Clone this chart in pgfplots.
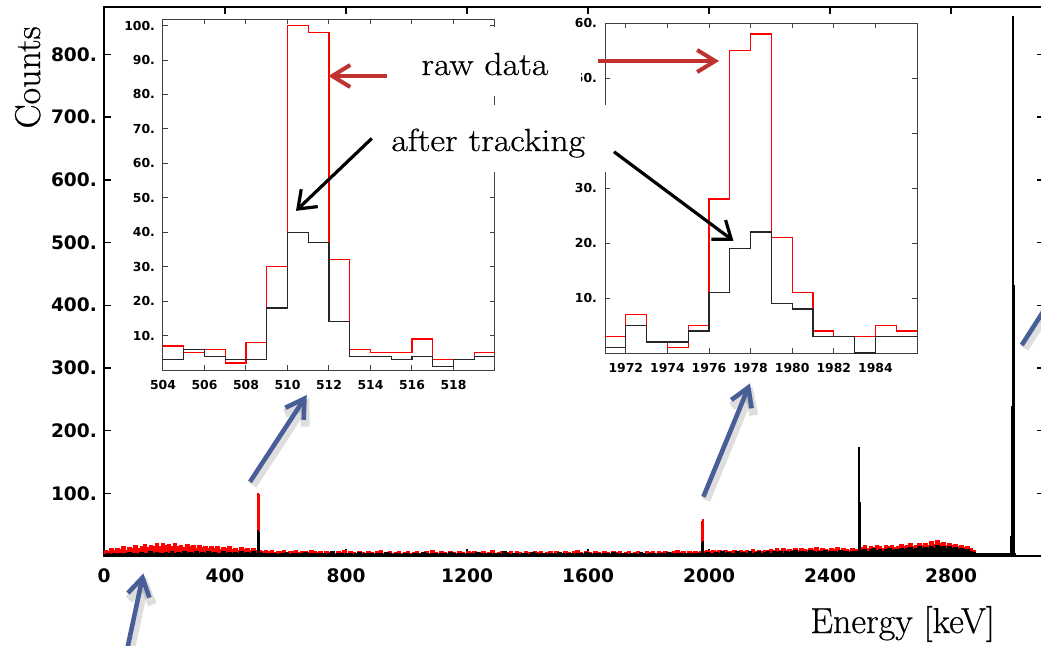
\documentclass[border=0pt]{standalone}
\usepackage{fontspec}
\usepackage{graphicx}
\usepackage{pgfplots}
\pgfplotsset{compat=1.18}
\usepackage{pgfplotstable}
\usetikzlibrary{arrows.meta}
\newfontfamily\tickfont{DejaVu Sans}
\newfontfamily\slidefont{Latin Modern Roman}[FakeBold=0.6]
\definecolor{rawred}{RGB}{192,50,48}
\definecolor{slideblue}{RGB}{72,94,150}

% Full spectrum, raw data: 10 keV bins, 1 keV bins around the lines
\pgfplotstableread[row sep=\\]{
E N\\
0 9\\ 10 7\\ 20 11\\ 30 8\\ 40 12\\ 50 10\\ 60 14\\ 70 9\\ 80 13\\ 90 11\\
100 16\\ 110 12\\ 120 15\\ 130 18\\ 140 13\\ 150 17\\ 160 14\\ 170 19\\ 180 15\\ 190 20\\
200 16\\ 210 18\\ 220 14\\ 230 19\\ 240 15\\ 250 17\\ 260 13\\ 270 18\\ 280 14\\ 290 16\\
300 12\\ 310 17\\ 320 13\\ 330 15\\ 340 11\\ 350 14\\ 360 12\\ 370 15\\ 380 10\\ 390 13\\
400 11\\ 410 14\\ 420 10\\ 430 12\\ 440 9\\ 450 13\\ 460 10\\ 470 12\\ 480 9\\ 490 11\\
500 8\\ 509 30\\ 510 100\\ 511 98\\ 512 32\\ 513 9\\
520 7\\ 530 9\\ 540 6\\ 550 8\\ 560 5\\ 570 7\\ 580 6\\ 590 9\\
600 5\\ 610 7\\ 620 6\\ 630 8\\ 640 5\\ 650 7\\ 660 6\\ 670 5\\ 680 8\\ 690 6\\
700 5\\ 710 7\\ 720 4\\ 730 6\\ 740 5\\ 750 7\\ 760 4\\ 770 6\\ 780 5\\ 790 8\\
800 4\\ 810 6\\ 820 5\\ 830 4\\ 840 7\\ 850 5\\ 860 4\\ 870 6\\ 880 5\\ 890 4\\
900 6\\ 910 8\\ 920 4\\ 930 5\\ 940 6\\ 950 4\\ 960 5\\ 970 7\\ 980 4\\ 990 5\\
1000 6\\ 1010 4\\ 1020 5\\ 1030 7\\ 1040 4\\ 1050 5\\ 1060 6\\ 1070 4\\ 1080 8\\ 1090 5\\
1100 4\\ 1110 6\\ 1120 5\\ 1130 4\\ 1140 7\\ 1150 5\\ 1160 4\\ 1170 6\\ 1180 5\\ 1190 4\\
1200 6\\ 1210 5\\ 1220 7\\ 1230 4\\ 1240 5\\ 1250 6\\ 1260 4\\ 1270 5\\ 1280 8\\ 1290 4\\
1300 5\\ 1310 6\\ 1320 4\\ 1330 5\\ 1340 7\\ 1350 4\\ 1360 6\\ 1370 5\\ 1380 4\\ 1390 6\\
1400 5\\ 1410 4\\ 1420 7\\ 1430 5\\ 1440 6\\ 1450 4\\ 1460 5\\ 1470 6\\ 1480 4\\ 1490 7\\
1500 5\\ 1510 4\\ 1520 6\\ 1530 5\\ 1540 4\\ 1550 6\\ 1560 8\\ 1570 5\\ 1580 4\\ 1590 6\\
1600 5\\ 1610 4\\ 1620 7\\ 1630 5\\ 1640 4\\ 1650 6\\ 1660 5\\ 1670 4\\ 1680 6\\ 1690 5\\
1700 7\\ 1710 4\\ 1720 5\\ 1730 6\\ 1740 4\\ 1750 5\\ 1760 7\\ 1770 5\\ 1780 4\\ 1790 6\\
1800 5\\ 1810 6\\ 1820 4\\ 1830 7\\ 1840 5\\ 1850 6\\ 1860 4\\ 1870 5\\ 1880 6\\ 1890 8\\
1900 5\\ 1910 6\\ 1920 4\\ 1930 7\\ 1940 5\\ 1950 6\\ 1960 5\\ 1970 6\\
1976 28\\ 1977 55\\ 1978 58\\ 1979 21\\ 1980 11\\ 1981 7\\
1990 8\\ 2000 6\\ 2010 9\\ 2020 7\\ 2030 8\\ 2040 6\\ 2050 9\\ 2060 7\\ 2070 6\\ 2080 8\\ 2090 7\\
2100 9\\ 2110 6\\ 2120 8\\ 2130 7\\ 2140 10\\ 2150 7\\ 2160 8\\ 2170 6\\ 2180 9\\ 2190 8\\
2200 10\\ 2210 8\\ 2220 11\\ 2230 9\\ 2240 12\\ 2250 9\\ 2260 10\\ 2270 8\\ 2280 12\\ 2290 9\\
2300 11\\ 2310 10\\ 2320 9\\ 2330 12\\ 2340 10\\ 2350 13\\ 2360 9\\ 2370 11\\ 2380 10\\ 2390 9\\
2400 12\\ 2410 10\\ 2420 13\\ 2430 9\\ 2440 11\\ 2450 10\\ 2460 9\\ 2470 12\\ 2480 10\\ 2490 9\\
2494 12\\ 2495 41\\ 2496 41\\ 2497 30\\ 2498 10\\
2500 13\\ 2510 16\\ 2520 12\\ 2530 15\\ 2540 13\\ 2550 17\\ 2560 14\\ 2570 12\\ 2580 16\\ 2590 14\\
2600 17\\ 2610 13\\ 2620 15\\ 2630 18\\ 2640 14\\ 2650 16\\ 2660 19\\ 2670 15\\ 2680 17\\ 2690 20\\
2700 16\\ 2710 19\\ 2720 17\\ 2730 22\\ 2740 18\\ 2750 24\\ 2760 19\\ 2770 21\\ 2780 17\\ 2790 20\\
2800 16\\ 2810 18\\ 2820 15\\ 2830 17\\ 2840 13\\ 2850 14\\ 2860 11\\ 2870 8\\
2880 2\\ 2999 20\\ 3000 45\\ 3001 45\\ 3002 40\\ 3003 30\\ 3004 10\\ 3005 0\\ 3110 0\\
}\rawspec

% Full spectrum after tracking
\pgfplotstableread[row sep=\\]{
E N\\
0 2\\ 10 3\\ 20 1\\ 30 3\\ 40 2\\ 50 4\\ 60 2\\ 70 3\\ 80 5\\ 90 3\\
100 4\\ 110 2\\ 120 5\\ 130 3\\ 140 4\\ 150 6\\ 160 3\\ 170 5\\ 180 4\\ 190 3\\
200 5\\ 210 4\\ 220 6\\ 230 3\\ 240 5\\ 250 4\\ 260 6\\ 270 3\\ 280 5\\ 290 4\\
300 6\\ 310 4\\ 320 5\\ 330 3\\ 340 6\\ 350 4\\ 360 5\\ 370 3\\ 380 4\\ 390 6\\
400 4\\ 410 5\\ 420 3\\ 430 5\\ 440 4\\ 450 6\\ 460 3\\ 470 5\\ 480 4\\ 490 6\\
500 4\\ 509 18\\ 510 40\\ 511 37\\ 512 14\\ 513 5\\
520 4\\ 530 3\\ 540 2\\ 550 4\\ 560 3\\ 570 2\\ 580 4\\ 590 3\\
600 5\\ 610 2\\ 620 3\\ 630 4\\ 640 2\\ 650 3\\ 660 5\\ 670 2\\ 680 3\\ 690 4\\
700 2\\ 710 3\\ 720 4\\ 730 2\\ 740 3\\ 750 6\\ 760 2\\ 770 3\\ 780 4\\ 790 2\\
800 3\\ 810 4\\ 820 2\\ 830 3\\ 840 5\\ 850 2\\ 860 3\\ 870 4\\ 880 3\\ 890 2\\
900 4\\ 910 3\\ 920 2\\ 930 5\\ 940 3\\ 950 2\\ 960 4\\ 970 3\\ 980 2\\ 990 4\\
1000 3\\ 1010 2\\ 1020 4\\ 1030 3\\ 1040 2\\ 1050 5\\ 1060 3\\ 1070 2\\ 1080 4\\ 1090 3\\
1100 2\\ 1110 4\\ 1120 3\\ 1130 2\\ 1140 5\\ 1150 3\\ 1160 2\\ 1170 4\\ 1180 3\\ 1190 2\\
1200 4\\ 1210 3\\ 1220 2\\ 1230 5\\ 1240 3\\ 1250 2\\ 1260 4\\ 1270 3\\ 1280 2\\ 1290 4\\
1300 3\\ 1310 2\\ 1320 6\\ 1330 3\\ 1340 2\\ 1350 4\\ 1360 3\\ 1370 2\\ 1380 4\\ 1390 3\\
1400 2\\ 1410 5\\ 1420 3\\ 1430 2\\ 1440 4\\ 1450 3\\ 1460 2\\ 1470 4\\ 1480 3\\ 1490 2\\
1500 5\\ 1510 3\\ 1520 2\\ 1530 4\\ 1540 3\\ 1550 2\\ 1560 4\\ 1570 3\\ 1580 2\\ 1590 5\\
1600 3\\ 1610 2\\ 1620 4\\ 1630 3\\ 1640 2\\ 1650 4\\ 1660 3\\ 1670 2\\ 1680 5\\ 1690 3\\
1700 2\\ 1710 4\\ 1720 3\\ 1730 2\\ 1740 4\\ 1750 3\\ 1760 2\\ 1770 5\\ 1780 3\\ 1790 2\\
1800 4\\ 1810 3\\ 1820 2\\ 1830 4\\ 1840 3\\ 1850 2\\ 1860 5\\ 1870 3\\ 1880 2\\ 1890 4\\
1900 3\\ 1910 2\\ 1920 4\\ 1930 3\\ 1940 2\\ 1950 4\\ 1960 3\\ 1970 4\\
1976 11\\ 1977 19\\ 1978 22\\ 1979 9\\ 1980 8\\ 1981 4\\
1990 5\\ 2000 4\\ 2010 3\\ 2020 5\\ 2030 4\\ 2040 6\\ 2050 3\\ 2060 5\\ 2070 4\\ 2080 3\\ 2090 6\\
2100 4\\ 2110 5\\ 2120 3\\ 2130 6\\ 2140 4\\ 2150 5\\ 2160 7\\ 2170 4\\ 2180 5\\ 2190 6\\
2200 4\\ 2210 7\\ 2220 5\\ 2230 6\\ 2240 4\\ 2250 7\\ 2260 5\\ 2270 6\\ 2280 8\\ 2290 5\\
2300 6\\ 2310 7\\ 2320 5\\ 2330 8\\ 2340 6\\ 2350 5\\ 2360 7\\ 2370 6\\ 2380 8\\ 2390 5\\
2400 7\\ 2410 6\\ 2420 5\\ 2430 8\\ 2440 6\\ 2450 7\\ 2460 5\\ 2470 6\\ 2480 7\\ 2490 5\\
2494 8\\ 2495 40\\ 2496 172\\ 2497 85\\ 2498 20\\ 2499 6\\
2500 8\\ 2510 10\\ 2520 7\\ 2530 9\\ 2540 11\\ 2550 8\\ 2560 10\\ 2570 7\\ 2580 9\\ 2590 11\\
2600 8\\ 2610 10\\ 2620 9\\ 2630 12\\ 2640 10\\ 2650 11\\ 2660 13\\ 2670 10\\ 2680 12\\ 2690 14\\
2700 11\\ 2710 13\\ 2720 12\\ 2730 15\\ 2740 12\\ 2750 16\\ 2760 13\\ 2770 14\\ 2780 12\\ 2790 15\\
2800 11\\ 2810 13\\ 2820 10\\ 2830 12\\ 2840 9\\ 2850 10\\ 2860 7\\ 2870 5\\
2880 3\\ 2999 30\\ 3000 238\\ 3001 238\\ 3002 238\\ 3003 860\\ 3004 430\\ 3005 430\\ 3006 430\\
3007 430\\ 3008 20\\ 3009 3\\ 3010 0\\ 3110 0\\
}\trackspec

% 511 keV region, 1 keV bins (last row closes the final bin)
\pgfplotstableread[row sep=\\]{
E raw trk\\
504 7 3\\ 505 5 6\\ 506 6 4\\ 507 2 3\\ 508 8 3\\ 509 30 18\\ 510 100 40\\ 511 98 37\\
512 32 14\\ 513 6 4\\ 514 5 4\\ 515 5 3\\ 516 9 4\\ 517 3 1\\ 518 3 3\\ 519 5 4\\ 520 5 4\\
}\annih

% 1978 keV region, 1 keV bins
\pgfplotstableread[row sep=\\]{
E raw trk\\
1971 3 1\\ 1972 7 5\\ 1973 2 2\\ 1974 1 2\\ 1975 5 4\\ 1976 28 11\\ 1977 55 19\\ 1978 58 22\\
1979 21 9\\ 1980 11 8\\ 1981 4 3\\ 1982 3 3\\ 1983 3 0\\ 1984 5 3\\ 1985 4 3\\ 1986 4 3\\
}\lineregion

\pgfplotsset{
  inset/.style={
    anchor=south west, scale only axis,
    axis background/.style={fill=white},
    axis line style={black!75, line width=0.5pt},
    tick align=inside, tick pos=both, major tick length=2.5pt,
    tick style={black!75, line width=0.5pt},
    ticklabel style={font=\tickfont\bfseries\fontsize{6.2}{7}\selectfont},
    xticklabel style={yshift=-1.5pt},
    yticklabel style={xshift=-0.5pt},
  },
}

\begin{document}
\begin{tikzpicture}
\path[use as bounding box] (0pt,0pt) rectangle (520.5pt,-322.5pt);
\fill[white] (0pt,0pt) rectangle (520.5pt,-322.5pt);
\clip (0pt,0pt) rectangle (520.5pt,-322.5pt);

% full spectrum
\begin{axis}[
  at={(52pt,-278pt)}, anchor=south west, scale only axis,
  width=470pt, height=274.5pt,
  xmin=0, xmax=3107, ymin=0, ymax=875.6,
  axis line style={black, line width=0.9pt},
  tick align=inside, tick pos=both, major tick length=3.5pt,
  tick style={black, line width=0.7pt},
  xtick={0,400,...,2800}, xticklabels={0,400,800,1200,1600,2000,2400,2800},
  ytick={100,200,...,800}, yticklabels={100.,200.,300.,400.,500.,600.,700.,800.},
  ticklabel style={font=\tickfont\bfseries\fontsize{9.3}{10}\selectfont},
  xticklabel style={yshift=-3pt},
]
\addplot[const plot, draw=red, fill=red, line width=0.8pt] table[x=E, y=N] {\rawspec} \closedcycle;
\addplot[const plot, draw=black, fill=black, line width=0.9pt] table[x=E, y=N] {\trackspec} \closedcycle;
\end{axis}

% zoom on 511 keV
\begin{axis}[inset,
  at={(81.5pt,-185pt)}, width=166pt, height=175.5pt,
  xmin=504, xmax=520, ymin=0, ymax=101.9,
  xtick={504,506,...,518}, xticklabels={504,506,508,510,512,514,516,518},
  ytick={10,20,...,100}, yticklabels={10.,20.,30.,40.,50.,60.,70.,80.,90.,100.},
]
\addplot[const plot, red, line width=0.65pt] table[x=E, y=raw] {\annih};
\addplot[const plot, black!85, line width=0.65pt] table[x=E, y=trk] {\annih};
\end{axis}

% zoom on 1978 keV (the 40 tick sits under the annotation box)
\begin{axis}[inset,
  at={(302.5pt,-176.5pt)}, width=156pt, height=165pt,
  xmin=1971, xmax=1986, ymin=0, ymax=60,
  xtick={1972,1974,...,1984}, xticklabels={1972,1974,1976,1978,1980,1982,1984},
  ytick={10,20,...,60}, yticklabels={10.,20.,30.,,50.,60.},
]
\addplot[const plot, red, line width=0.65pt] table[x=E, y=raw] {\lineregion};
\addplot[const plot, black!85, line width=0.65pt] table[x=E, y=trk] {\lineregion};
\end{axis}

% annotations
\fill[white] (200pt,-13.5pt) rectangle (290.5pt,-48pt);
\fill[white] (192.5pt,-52.5pt) rectangle (305pt,-86pt);
\node[anchor=base west, inner sep=0pt, font=\slidefont\fontsize{16}{18}\selectfont]
  at (210.5pt,-37.5pt) {\scalebox{1.12}[1]{raw data}};
\node[anchor=base west, inner sep=0pt, font=\slidefont\fontsize{16}{18}\selectfont]
  at (195.5pt,-75.5pt) {\scalebox{1.12}[1]{after tracking}};

\draw[rawred, line width=2pt, -{Straight Barb[length=9pt,width=11pt]}]
  (193.4pt,-38pt) -- (164.2pt,-38pt);
\draw[rawred, line width=2pt, -{Straight Barb[length=9pt,width=11pt]}]
  (299.2pt,-30.5pt) -- (359.5pt,-30.5pt);
\draw[black, line width=1.6pt, -{Straight Barb[length=8pt,width=12pt]}]
  (185.9pt,-69.2pt) -- (148pt,-105.4pt);
\draw[black, line width=1.6pt, -{Straight Barb[length=8pt,width=12pt]}]
  (307pt,-75.9pt) -- (366.7pt,-120.4pt);

% pointer arrows with a soft shadow
\begin{scope}[shift={(1.3pt,-1.6pt)}, black, opacity=0.13, line width=4.5pt]
\draw[-{Straight Barb[length=9pt,width=12pt]}] (125pt,-240.9pt) -- (153.4pt,-197.5pt);
\draw[-{Straight Barb[length=9pt,width=12pt]}] (351.7pt,-248.4pt) -- (375pt,-191.7pt);
\draw[-{Straight Barb[length=9pt,width=12pt]}] (63.5pt,-325pt) -- (71.7pt,-286.7pt);
\draw (510.9pt,-172.5pt) -- (540pt,-127pt);
\end{scope}
\begin{scope}[slideblue, line width=2.3pt]
\draw[-{Straight Barb[length=9pt,width=11pt]}] (125pt,-240.9pt) -- (153.4pt,-197.5pt);
\draw[-{Straight Barb[length=9pt,width=11pt]}] (351.7pt,-248.4pt) -- (375pt,-191.7pt);
\draw[-{Straight Barb[length=9pt,width=11pt]}] (63.5pt,-325pt) -- (71.7pt,-286.7pt);
\draw (510.9pt,-172.5pt) -- (540pt,-127pt);
\end{scope}

% axis titles
\node[rotate=90, anchor=base, inner sep=0pt, font=\slidefont\fontsize{18}{20}\selectfont]
  at (20pt,-38.7pt) {Counts};
\node[anchor=base west, inner sep=0pt, font=\slidefont\fontsize{18}{20}\selectfont]
  at (405pt,-316.5pt) {Energy [keV]};
\end{tikzpicture}
\end{document}
